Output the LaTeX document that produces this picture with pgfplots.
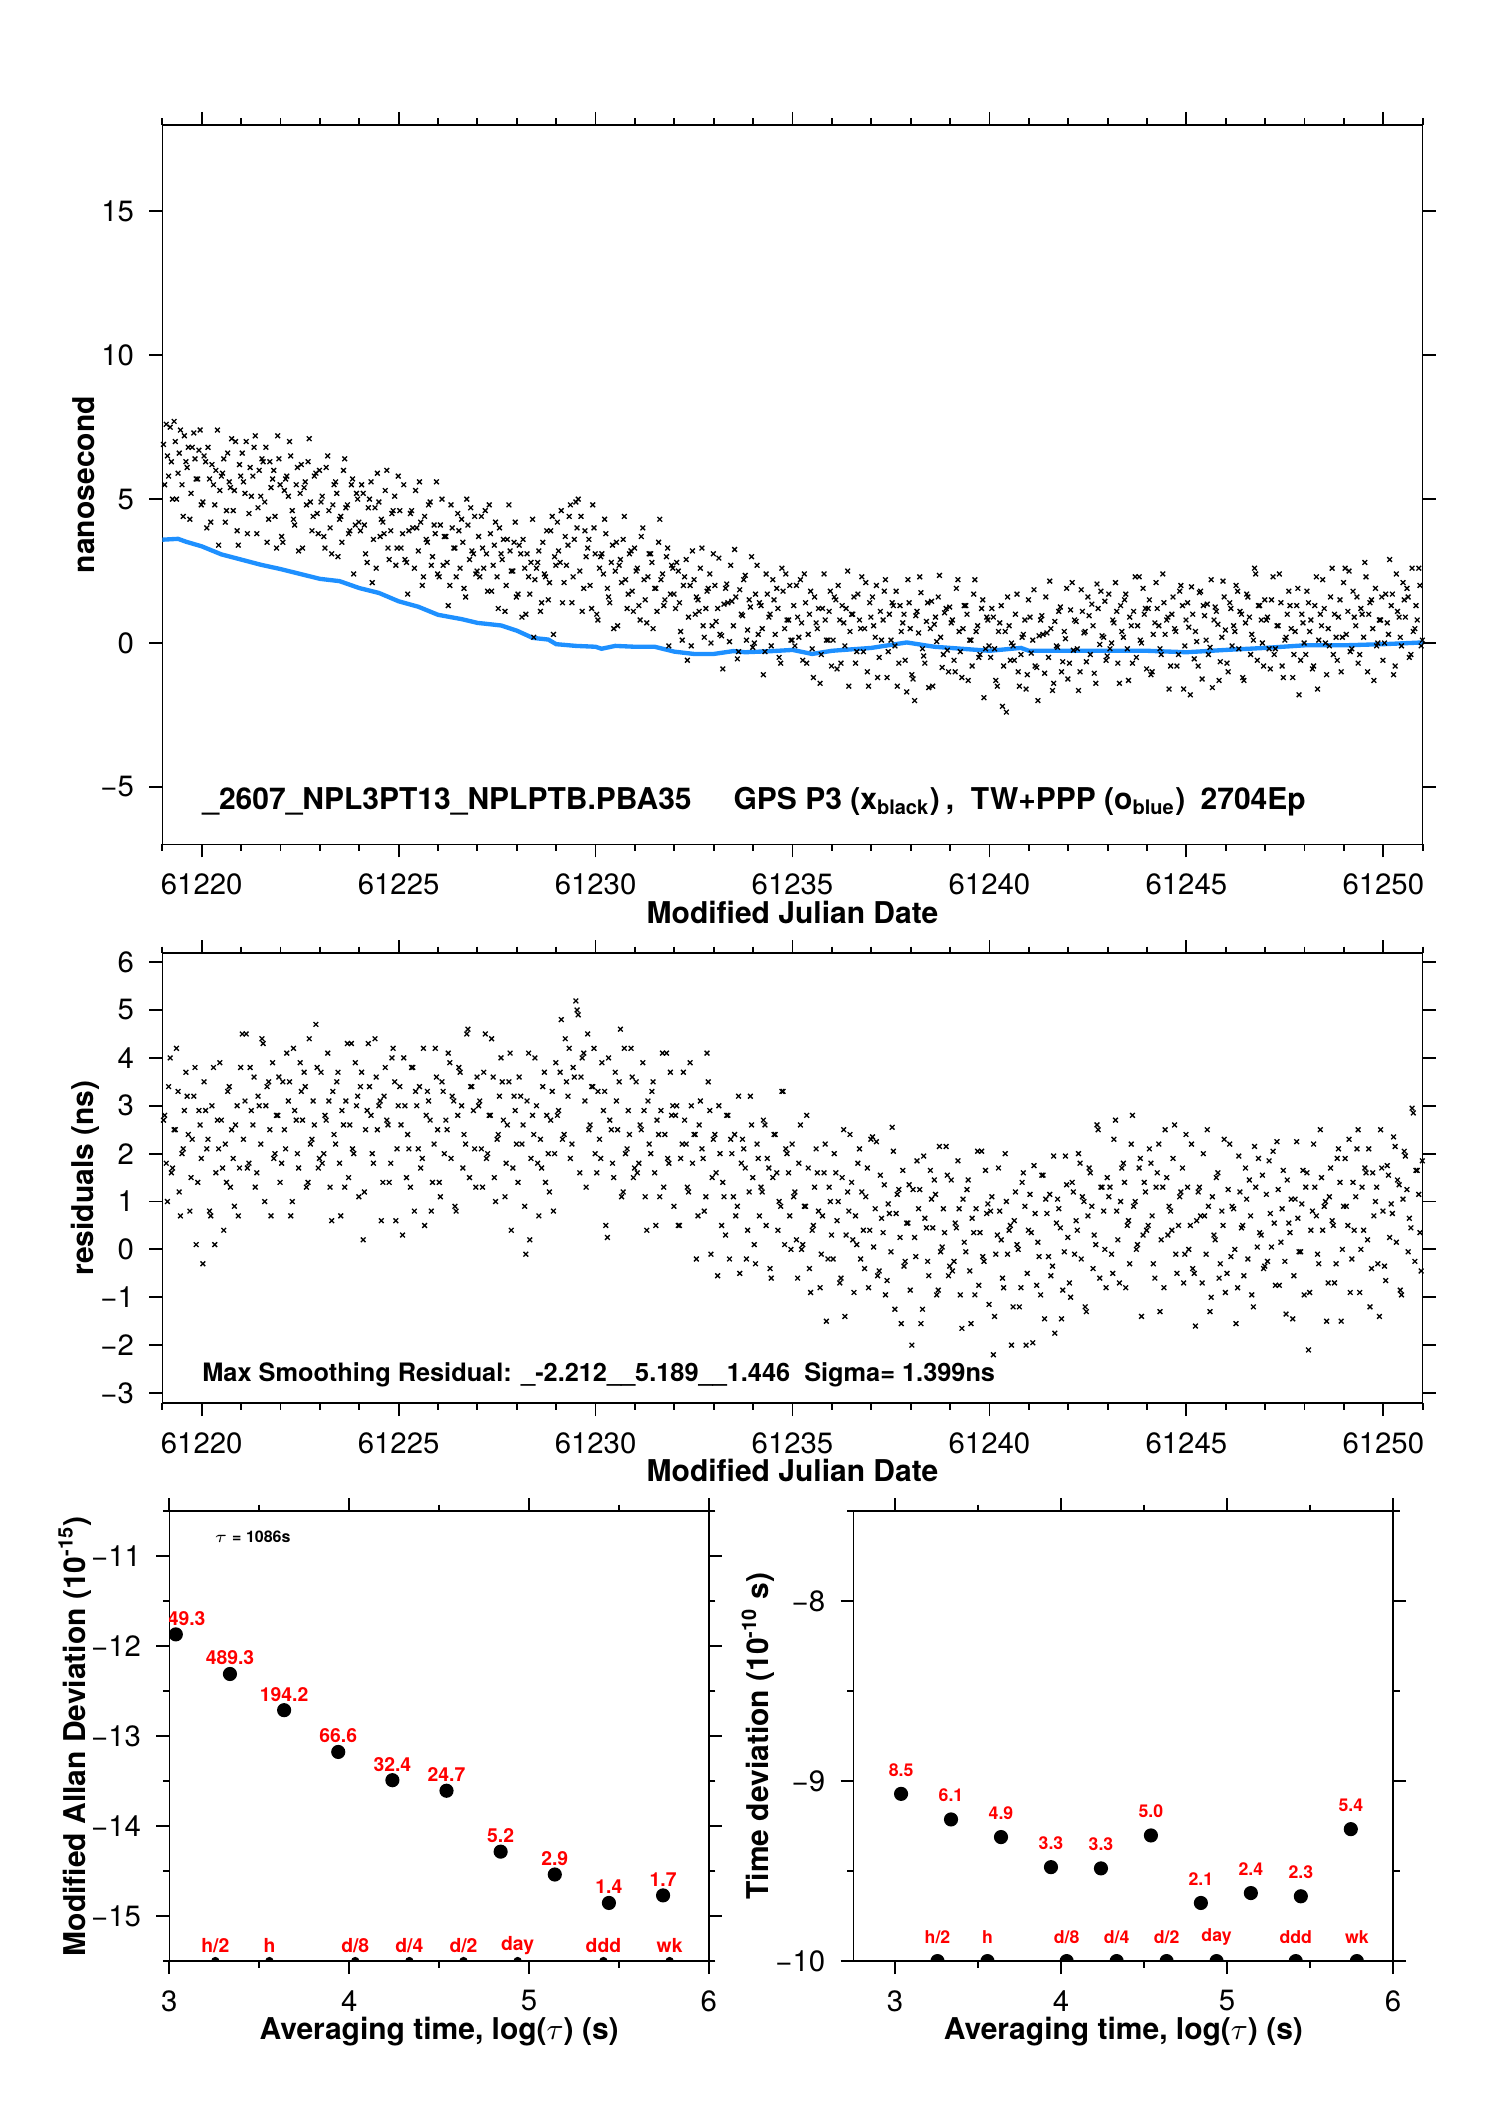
\documentclass[border=0pt]{standalone}
\usepackage{fontspec}
\setmainfont{TeX Gyre Heros}
\usepackage{pgfplots}
\usepackage{pgfplotstable}
\pgfplotsset{compat=1.18}
\definecolor{tblue}{RGB}{30,144,255}
\definecolor{tred}{RGB}{255,0,0}

% x = MJD, g = GPS P3 (top panel), r = smoothing residual (middle panel)
\pgfplotstableread{
x g r
61219.03 6.9 2.7
61219.10 7.6 1.8
61219.16 5.8 3.4
61219.23 6.3 1.6
61219.30 7.7 2.5
61219.36 5.0 4.2
61219.43 6.6 1.2
61219.50 5.5 2.0
61219.56 7.2 2.9
61219.63 6.1 3.2
61219.70 4.3 0.8
61219.76 6.8 2.3
61219.83 6.4 3.8
61219.90 5.7 1.4
61219.96 7.4 2.6
61220.03 4.9 -0.3
61220.10 6.3 2.9
61220.16 6.8 2.3
61220.23 4.2 0.7
61220.30 5.5 3.8
61220.36 6.0 1.6
61220.43 3.4 2.1
61220.50 5.8 2.7
61220.56 6.4 0.4
61220.63 4.6 1.4
61220.70 5.6 3.4
61220.76 7.1 2.5
61220.83 5.3 0.9
61220.90 3.9 3.0
61220.96 6.2 1.7
61221.03 6.6 4.5
61221.10 5.2 3.1
61221.16 3.8 1.7
61221.23 6.1 3.8
61221.30 5.8 2.6
61221.36 7.2 1.3
61221.43 4.7 3.2
61221.50 5.1 2.2
61221.56 6.3 4.3
61221.63 6.8 3.0
61221.70 4.3 3.5
61221.76 5.4 0.7
61221.83 6.0 1.9
61221.90 3.3 2.8
61221.96 6.4 3.6
61222.03 3.7 1.8
61222.10 5.3 2.5
61222.16 5.8 4.1
61222.23 7.0 3.5
61222.30 4.6 1.0
61222.36 4.1 2.9
61222.43 6.1 2.0
61222.50 5.2 3.9
61222.56 3.3 2.7
61222.63 5.6 3.4
61222.70 6.3 1.4
61222.76 4.9 2.2
61222.83 4.4 3.1
61222.90 5.9 4.7
61222.96 3.8 1.7
61223.03 4.9 3.7
61223.10 3.7 2.0
61223.16 6.1 2.7
61223.23 4.6 3.1
61223.30 3.1 0.6
61223.36 5.5 2.4
61223.43 5.2 3.5
61223.50 4.3 1.8
61223.56 3.5 2.9
61223.63 6.4 1.3
61223.70 4.8 4.3
61223.76 3.9 2.6
61223.83 5.7 2.1
61223.90 4.1 3.9
61223.96 5.0 3.2
61224.03 3.9 3.4
61224.10 5.2 0.2
61224.16 3.1 2.5
61224.23 4.7 4.3
61224.30 5.6 2.8
61224.36 3.6 1.8
61224.43 2.6 3.6
61224.50 4.9 3.0
61224.56 4.3 0.6
61224.63 3.8 3.2
61224.70 6.0 2.7
61224.76 2.9 1.4
61224.83 4.5 4.0
61224.90 5.1 3.5
61224.96 3.3 2.1
61225.03 4.6 3.4
61225.10 3.8 0.3
61225.16 2.9 3.0
61225.23 1.7 2.4
61225.30 4.5 1.3
61225.36 4.0 3.8
61225.43 5.3 3.3
61225.50 3.2 2.1
61225.56 4.2 1.7
61225.63 2.3 4.2
61225.70 3.6 2.8
61225.76 4.8 3.1
61225.83 2.7 0.8
61225.90 4.1 2.2
61225.96 5.6 3.6
61226.03 2.3 1.4
61226.10 5.0 3.5
61226.16 3.7 2.0
61226.23 2.8 2.5
61226.30 2.0 3.9
61226.36 4.0 3.2
61226.43 3.3 0.9
61226.50 4.5 2.8
61226.56 2.6 3.7
61226.63 3.5 1.7
61226.70 1.6 2.2
61226.76 4.1 4.6
61226.83 4.7 3.4
61226.90 3.1 2.9
61226.96 2.4 1.3
61227.03 3.7 3.0
61227.10 4.4 2.1
61227.16 2.6 3.7
61227.23 3.1 1.9
61227.30 4.8 2.8
61227.36 1.8 4.4
61227.43 3.4 1.5
61227.50 2.3 2.3
61227.56 4.0 3.2
61227.63 2.9 3.5
61227.70 1.1 1.1
61227.76 3.6 2.6
61227.83 3.2 4.1
61227.90 2.5 1.7
61227.96 4.2 2.9
61228.03 1.7 1.4
61228.10 3.1 3.2
61228.16 3.6 2.6
61228.23 1.0 -0.1
61228.30 2.3 4.1
61228.36 2.8 1.9
61228.43 0.2 2.4
61228.50 2.6 3.0
61228.56 3.2 0.7
61228.63 1.4 1.7
61228.70 2.4 3.7
61228.76 3.9 2.8
61228.83 2.1 1.2
61228.90 4.4 3.3
61228.96 3.0 2.0
61229.03 4.2 2.8
61229.10 2.8 3.7
61229.16 1.4 2.3
61229.23 3.7 4.4
61229.30 3.4 3.2
61229.36 4.8 1.9
61229.43 2.3 3.8
61229.50 4.9 5.19
61229.56 5.0 4.9
61229.63 4.4 3.6
61229.70 1.9 4.1
61229.76 3.0 1.3
61229.83 3.6 2.5
61229.90 1.2 3.4
61229.96 4.0 4.2
61230.03 1.0 1.6
61230.10 2.6 2.3
61230.16 3.1 3.9
61230.23 4.3 3.3
61230.30 1.9 0.25
61230.36 1.4 2.7
61230.43 3.4 1.8
61230.50 2.5 3.7
61230.56 0.6 2.5
61230.63 2.9 4.6
61230.70 3.6 1.2
61230.76 2.2 2.0
61230.83 1.7 2.9
61230.90 3.2 4.2
61230.96 1.1 1.5
61231.03 2.5 3.5
61231.10 1.3 1.8
61231.16 3.7 2.5
61231.23 2.2 2.9
61231.30 0.7 0.4
61231.36 3.1 2.2
61231.43 2.8 3.3
61231.50 1.9 1.6
61231.56 1.1 2.7
61231.63 4.3 1.1
61231.70 2.4 4.1
61231.76 1.5 2.4
61231.83 3.3 1.9
61231.90 1.7 3.7
61231.96 2.6 3.0
61232.03 1.2 2.8
61232.10 2.5 0.5
61232.16 0.4 1.9
61232.23 2.0 3.7
61232.30 2.9 2.2
61232.36 0.9 1.2
61232.43 -0.1 3.0
61232.50 2.2 2.4
61232.56 1.6 -0.2
61232.63 1.1 2.6
61232.70 3.3 2.1
61232.76 0.2 0.8
61232.83 1.8 4.1
61232.90 2.4 2.9
61232.96 0.6 1.5
61233.03 2.0 2.4
61233.10 1.2 -0.55
61233.16 0.3 2.0
61233.23 -0.9 1.4
61233.30 1.9 0.3
61233.36 1.4 2.8
61233.43 2.7 2.3
61233.50 0.6 1.1
61233.56 1.6 0.7
61233.63 -0.3 3.2
61233.70 1.0 1.8
61233.76 2.2 2.1
61233.83 0.1 -0.2
61233.90 1.5 1.2
61233.96 3.0 2.6
61234.03 0.0 0.1
61234.10 2.7 2.2
61234.16 1.4 0.7
61234.23 0.5 1.2
61234.30 -0.3 2.6
61234.36 1.7 1.9
61234.43 1.0 -0.4
61234.50 2.2 1.5
61234.56 0.3 2.4
61234.63 1.2 0.4
61234.70 -0.7 0.9
61234.76 1.8 3.3
61234.83 2.4 2.1
61234.90 0.8 1.6
61234.96 0.1 0.0
61235.03 1.3 1.1
61235.10 2.0 0.2
61235.16 0.2 1.8
61235.23 0.7 0.0
61235.30 2.4 0.9
61235.36 -0.7 2.8
61235.43 1.0 -0.4
61235.50 -0.2 0.4
61235.56 1.6 1.3
61235.63 0.5 1.6
61235.70 -1.4 -0.8
61235.76 1.2 0.7
61235.83 0.8 2.2
61235.90 0.1 -0.2
61235.96 1.8 1.0
61236.03 0.1 -0.2
61236.10 1.5 1.6
61236.16 2.0 1.0
61236.23 -0.7 -0.6
61236.30 0.7 2.5
61236.36 1.2 0.3
61236.43 -1.5 0.8
61236.50 1.0 1.4
61236.56 1.6 -0.9
61236.63 -0.3 0.1
61236.70 0.8 2.1
61236.76 2.3 1.2
61236.83 0.5 -0.4
61236.90 -1.0 1.7
61236.96 1.4 0.4
61237.03 1.6 2.35
61237.10 0.2 0.85
61237.16 -1.2 -0.55
61237.23 1.1 1.55
61237.30 0.8 0.35
61237.36 2.2 -0.95
61237.43 -0.3 0.95
61237.50 0.1 -0.05
61237.56 1.3 2.05
61237.63 1.8 0.75
61237.70 -0.7 1.25
61237.76 0.4 -1.55
61237.83 1.0 -0.35
61237.90 -1.7 0.55
61237.96 1.4 1.35
61238.03 -1.1 -2.0
61238.10 -2.0 0.25
61238.16 1.1 1.85
61238.23 2.3 1.25
61238.30 -0.2 -1.25
61238.36 -0.7 0.65
61238.43 1.4 -0.25
61238.50 0.5 1.65
61238.56 -1.5 0.45
61238.63 0.9 1.15
61238.70 1.6 -0.85
61238.76 0.2 -0.05
61238.83 -0.4 0.85
61238.90 1.2 2.15
61238.96 -1.0 -0.55
61239.03 0.7 1.45
61239.10 -0.6 -0.25
61239.16 1.9 0.45
61239.23 0.4 0.85
61239.30 -1.2 -1.65
61239.36 1.3 0.15
61239.43 1.0 1.25
61239.50 0.1 -0.45
61239.56 -0.8 0.65
61239.63 2.2 -0.95
61239.70 0.6 2.05
61239.76 -0.4 0.35
61239.83 1.5 -0.15
61239.90 -0.2 1.65
61239.96 0.8 0.95
61240.03 -0.5 0.8
61240.10 0.9 -2.2
61240.16 -1.3 -0.1
61240.23 0.4 1.7
61240.30 1.3 0.2
61240.36 -0.8 -0.8
61240.43 -2.4 1.0
61240.50 0.6 0.4
61240.56 0.0 -2.0
61240.63 -0.6 0.6
61240.70 1.7 0.1
61240.76 -1.5 -1.2
61240.83 0.2 1.4
61240.90 0.8 0.9
61240.96 -1.1 -0.5
61241.03 0.9 1.15
61241.10 0.1 -1.95
61241.16 -0.8 0.75
61241.23 -2.0 0.15
61241.30 0.8 -0.95
61241.36 0.3 1.55
61241.43 1.6 1.05
61241.50 -0.5 -0.15
61241.56 0.5 -0.55
61241.63 -1.4 1.95
61241.70 -0.1 0.55
61241.76 1.1 0.85
61241.83 -1.0 -1.45
61241.90 0.4 -0.05
61241.96 1.9 1.35
61242.03 -0.7 -0.7
61242.10 2.1 1.4
61242.16 0.8 -0.1
61242.23 -0.2 0.4
61242.30 -1.0 1.8
61242.36 1.1 1.1
61242.43 0.4 -1.2
61242.50 1.6 0.7
61242.56 -0.4 1.6
61242.63 0.6 -0.4
61242.70 -1.4 0.1
61242.76 1.2 2.5
61242.83 1.8 1.3
61242.90 0.2 0.8
61242.96 -0.6 -0.8
61243.03 1.7 1.1
61243.10 0.0 -0.1
61243.16 0.7 2.3
61243.23 1.1 0.8
61243.30 -1.4 -0.7
61243.36 0.4 1.7
61243.43 1.5 1.4
61243.50 -0.2 0.5
61243.56 0.9 -0.3
61243.63 -0.7 2.8
61243.70 2.3 1.0
61243.76 0.6 0.1
61243.83 0.1 1.9
61243.90 1.9 0.3
61243.96 1.2 1.2
61244.03 1.2 0.5
61244.10 -1.1 1.8
61244.16 0.3 -0.3
61244.23 2.1 1.3
61244.30 0.6 2.2
61244.36 -0.4 0.2
61244.43 1.4 -0.8
61244.50 0.8 1.5
61244.56 -1.6 0.9
61244.63 1.0 0.4
61244.70 0.5 2.6
61244.76 -0.8 -0.5
61244.83 1.8 1.1
61244.90 1.3 1.7
61244.96 -0.1 -0.1
61245.03 1.4 1.3
61245.10 -1.8 0.5
61245.16 1.0 -0.4
61245.23 0.4 -1.6
61245.30 -0.8 1.2
61245.36 1.8 0.7
61245.43 1.3 2.0
61245.50 0.1 -0.1
61245.56 -0.4 0.9
61245.63 2.2 -1.0
61245.70 0.8 0.3
61245.76 1.1 1.5
61245.83 -1.3 -0.6
61245.90 0.2 0.8
61245.96 1.6 2.3
61246.03 -0.7 -0.5
61246.10 1.4 2.2
61246.16 -0.1 0.9
61246.23 0.4 0.0
61246.30 1.8 -0.8
61246.36 1.1 1.2
61246.43 -1.2 0.5
61246.50 0.7 1.7
61246.56 1.6 -0.2
61246.63 -0.4 0.7
61246.70 0.1 -1.2
61246.76 2.4 1.3
61246.83 1.3 1.9
61246.90 0.8 0.3
61246.96 -0.8 -0.4
61247.03 0.8 1.15
61247.10 -0.2 1.85
61247.16 1.5 0.05
61247.23 -0.4 0.55
61247.30 0.6 2.25
61247.36 2.4 -0.75
61247.43 -0.8 0.85
61247.50 0.1 -0.25
61247.56 1.0 1.45
61247.63 1.3 0.35
61247.70 -1.2 -1.45
61247.76 0.4 1.05
61247.83 1.9 0.65
61247.90 -0.6 -0.05
61247.96 0.7 1.65
61248.03 -0.4 1.3
61248.10 1.4 -2.1
61248.16 0.8 0.4
61248.23 -0.8 2.2
61248.30 2.3 0.7
61248.36 0.1 -0.3
61248.43 0.6 1.5
61248.50 1.2 0.9
61248.56 -1.1 -1.5
61248.63 -0.1 1.1
61248.70 2.6 0.6
61248.76 1.0 -0.7
61248.83 -0.6 1.9
61248.90 1.5 1.4
61248.96 0.2 0.0
61249.03 2.6 1.9
61249.10 1.1 0.5
61249.16 -0.3 -0.9
61249.23 1.8 1.4
61249.30 0.6 1.1
61249.36 -0.7 2.5
61249.43 1.2 0.0
61249.50 0.2 0.4
61249.56 2.3 1.6
61249.63 1.0 2.1
61249.70 1.5 -0.4
61249.76 -1.3 0.7
61249.83 -0.1 1.3
61249.90 0.8 -1.4
61249.96 1.6 1.7
61250.03 0.0 -0.35
61250.10 0.7 1.75
61250.16 2.9 0.25
61250.23 1.7 0.75
61250.30 -0.8 2.15
61250.36 1.1 1.45
61250.43 0.2 -0.85
61250.50 2.1 1.05
61250.56 0.9 1.95
61250.63 1.6 -0.05
61250.70 -0.4 0.45
61250.76 0.4 2.85
61250.83 1.3 1.65
61250.90 2.6 1.15
61250.96 -0.1 -0.45
}\gpsdata

% second half of the epochs
\pgfplotstableread{
x g r
61219.06 5.5 2.8
61219.13 6.5 1.0
61219.20 7.5 4.0
61219.26 5.0 1.7
61219.33 7.0 2.5
61219.40 5.9 3.3
61219.46 7.4 0.7
61219.53 4.4 2.1
61219.60 6.3 3.7
61219.66 6.8 2.4
61219.73 5.2 1.5
61219.80 7.3 3.2
61219.86 5.7 0.1
61219.93 6.7 2.9
61219.99 4.8 1.9
61220.06 6.5 3.5
61220.13 4.0 2.1
61220.20 5.7 0.8
61220.26 6.2 3.0
61220.33 4.8 0.1
61220.40 7.4 2.7
61220.46 5.3 3.9
61220.53 5.9 1.7
61220.60 4.2 2.2
61220.66 6.6 3.3
61220.73 5.4 1.3
61220.80 4.6 1.9
61220.86 7.0 2.6
61220.93 3.4 0.7
61220.99 5.8 3.8
61221.06 5.6 2.3
61221.13 7.0 4.5
61221.20 4.5 1.8
61221.26 5.1 2.9
61221.33 6.8 3.6
61221.40 3.8 1.6
61221.46 6.0 3.0
61221.53 6.4 4.4
61221.60 4.9 1.0
61221.66 3.5 3.4
61221.73 6.3 2.5
61221.80 5.7 3.9
61221.86 4.4 2.0
61221.93 7.2 2.8
61221.99 5.5 1.4
61222.06 3.5 3.5
61222.13 5.7 2.1
61222.20 5.1 3.1
61222.26 6.5 0.7
61222.33 4.3 4.2
61222.40 5.5 2.7
61222.46 3.2 1.7
61222.53 6.2 3.3
61222.60 5.4 3.7
61222.66 4.8 1.3
61222.73 7.1 4.4
61222.80 3.9 2.3
61222.86 5.8 2.6
61222.93 4.5 3.8
61222.99 6.0 1.9
61223.06 5.1 1.8
61223.13 3.3 2.8
61223.20 6.5 4.1
61223.26 4.0 1.3
61223.33 4.8 3.3
61223.40 5.6 2.2
61223.46 3.0 3.7
61223.53 4.4 0.7
61223.60 6.0 2.6
61223.66 4.7 3.1
61223.73 3.8 1.5
61223.80 5.5 4.3
61223.86 2.4 2.0
61223.93 5.2 3.0
61223.99 4.2 1.1
61224.06 5.5 3.7
61224.13 4.1 1.2
61224.20 2.8 2.9
61224.26 5.0 3.4
61224.33 2.1 2.0
61224.40 4.7 4.4
61224.46 5.9 2.5
61224.53 3.7 3.1
61224.60 4.2 1.4
61224.66 5.3 3.8
61224.73 3.3 2.6
61224.80 3.9 1.8
61224.86 4.6 4.2
61224.93 2.7 0.6
61224.99 5.8 3.0
61225.06 3.3 2.6
61225.13 5.5 4.0
61225.20 2.8 1.5
61225.26 3.9 2.1
61225.33 4.6 3.8
61225.40 2.6 0.8
61225.46 4.0 3.0
61225.53 5.6 3.4
61225.60 2.0 1.9
61225.66 4.4 0.5
61225.73 3.5 3.3
61225.80 4.9 2.7
61225.86 3.0 1.4
61225.93 3.8 4.2
61225.99 2.4 2.5
61226.06 4.1 1.1
61226.13 2.7 3.3
61226.20 3.7 2.7
61226.26 1.3 4.1
61226.33 4.8 1.9
61226.40 3.3 3.1
61226.46 2.3 0.8
61226.53 3.9 3.8
61226.60 4.3 3.0
61226.66 1.9 2.4
61226.73 5.0 4.5
61226.80 2.9 1.5
61226.86 3.2 3.4
61226.93 4.4 2.1
61226.99 2.5 3.6
61227.06 2.3 3.1
61227.13 3.3 1.3
61227.20 4.6 4.5
61227.26 1.8 2.0
61227.33 3.8 2.8
61227.40 2.7 3.6
61227.46 4.2 1.0
61227.53 1.2 2.4
61227.60 3.1 4.0
61227.66 3.6 2.7
61227.73 2.0 1.8
61227.80 4.8 3.5
61227.86 2.5 0.4
61227.93 3.5 3.2
61227.99 1.6 2.2
61228.06 3.4 3.6
61228.13 0.9 2.2
61228.20 2.6 0.9
61228.26 3.1 3.1
61228.33 1.7 0.2
61228.40 4.3 2.8
61228.46 2.2 4.0
61228.53 2.8 1.8
61228.60 1.1 2.3
61228.66 3.5 3.4
61228.73 2.3 1.4
61228.80 1.5 2.0
61228.86 3.9 2.7
61228.93 0.3 0.8
61228.99 2.7 3.9
61229.06 3.2 2.9
61229.13 4.6 4.8
61229.20 2.1 2.4
61229.26 2.7 3.5
61229.33 4.4 4.2
61229.40 1.4 2.2
61229.46 3.6 3.6
61229.53 4.0 5.0
61229.60 2.5 1.6
61229.66 1.1 4.0
61229.73 3.9 3.1
61229.80 3.3 4.5
61229.86 2.0 2.6
61229.93 4.8 3.4
61229.99 3.1 2.0
61230.06 0.8 3.3
61230.13 3.0 1.9
61230.20 2.4 2.9
61230.26 3.8 0.5
61230.33 1.6 4.0
61230.40 2.8 2.5
61230.46 0.5 1.5
61230.53 3.5 3.1
61230.60 2.7 3.5
61230.66 2.1 1.1
61230.73 4.4 4.2
61230.80 1.2 2.1
61230.86 3.1 2.4
61230.93 1.8 3.6
61230.99 3.3 1.7
61231.06 2.6 1.6
61231.13 0.8 2.6
61231.20 4.0 3.9
61231.26 1.5 1.1
61231.33 2.3 3.1
61231.40 3.1 2.0
61231.46 0.5 3.5
61231.53 1.9 0.5
61231.60 3.5 2.4
61231.66 2.2 2.9
61231.73 1.3 1.3
61231.80 3.0 4.1
61231.86 -0.1 1.8
61231.93 2.7 2.8
61231.99 1.7 0.9
61232.06 2.8 3.0
61232.13 1.4 0.5
61232.20 0.1 2.2
61232.26 2.3 2.7
61232.33 -0.6 1.3
61232.40 2.0 3.9
61232.46 3.2 1.8
61232.53 1.0 2.4
61232.60 1.5 0.7
61232.66 2.6 3.1
61232.73 0.6 1.9
61232.80 1.2 1.1
61232.86 1.9 3.5
61232.93 0.0 -0.1
61232.99 3.1 2.3
61233.06 0.75 1.6
61233.13 2.95 3.0
61233.20 0.25 0.5
61233.26 1.35 1.1
61233.33 2.05 2.8
61233.40 0.05 -0.2
61233.46 1.45 2.0
61233.53 3.25 2.4
61233.60 -0.55 0.9
61233.66 1.85 -0.5
61233.73 0.95 2.3
61233.80 2.35 1.7
61233.86 0.45 0.4
61233.93 1.25 3.2
61233.99 -0.15 1.5
61234.06 1.7 -0.3
61234.13 0.3 1.9
61234.20 1.3 1.3
61234.26 -1.1 2.7
61234.33 2.4 0.5
61234.40 0.9 1.7
61234.46 -0.1 -0.6
61234.53 1.5 2.4
61234.60 1.9 1.6
61234.66 -0.5 1.0
61234.73 2.6 3.3
61234.80 0.5 0.1
61234.86 0.8 2.0
61234.93 2.0 0.7
61234.99 0.1 2.2
61235.06 -0.1 1.2
61235.13 0.9 -0.6
61235.20 2.2 2.6
61235.26 -0.6 0.1
61235.33 1.4 0.9
61235.40 0.3 1.7
61235.46 1.8 -0.9
61235.53 -1.2 0.5
61235.60 0.7 2.1
61235.66 1.2 0.8
61235.73 -0.4 -0.1
61235.80 2.4 1.6
61235.86 0.1 -1.5
61235.93 1.1 1.3
61235.99 -0.8 0.3
61236.06 1.6 2.0
61236.13 -0.9 0.6
61236.20 0.8 -0.7
61236.26 1.3 1.5
61236.33 -0.1 -1.4
61236.40 2.5 1.2
61236.46 0.4 2.4
61236.53 1.0 0.2
61236.60 -0.7 0.7
61236.66 1.7 1.8
61236.73 0.5 -0.2
61236.80 -0.3 0.4
61236.86 2.1 1.1
61236.93 -1.5 -0.8
61236.99 0.9 2.3
61237.06 0.6 0.05
61237.13 2.0 2.25
61237.20 -0.5 -0.45
61237.26 0.1 0.65
61237.33 1.8 1.35
61237.40 -1.2 -0.65
61237.46 1.0 0.75
61237.53 1.4 2.55
61237.60 -0.1 -1.25
61237.66 -1.5 1.15
61237.73 1.3 0.25
61237.80 0.7 1.65
61237.86 -0.6 -0.25
61237.93 2.2 0.55
61237.99 0.5 -0.85
61238.06 -1.25 1.25
61238.13 0.95 -0.15
61238.20 0.35 0.85
61238.26 1.75 -1.55
61238.33 -0.45 1.95
61238.40 0.75 0.45
61238.46 -1.55 -0.55
61238.53 1.45 1.05
61238.60 0.65 1.45
61238.66 0.05 -0.95
61238.73 2.35 2.15
61238.80 -0.85 0.05
61238.86 1.05 0.35
61238.93 -0.25 1.55
61238.99 1.25 -0.35
61239.06 0.8 -0.45
61239.13 -1.0 0.55
61239.20 2.2 1.85
61239.26 -0.3 -0.95
61239.33 0.5 1.05
61239.40 1.3 -0.05
61239.46 -1.3 1.45
61239.53 0.1 -1.55
61239.60 1.7 0.35
61239.66 0.4 0.85
61239.73 -0.5 -0.75
61239.80 1.2 2.05
61239.86 -1.9 -0.25
61239.93 0.9 0.75
61239.99 -0.1 -1.15
61240.06 1.2 1.1
61240.13 -0.2 -1.4
61240.20 -1.5 0.3
61240.26 0.7 0.8
61240.33 -2.2 -0.6
61240.40 0.4 2.0
61240.46 1.6 -0.1
61240.53 -0.6 0.5
61240.60 -0.1 -1.2
61240.66 1.0 1.2
61240.73 -1.0 0.0
61240.80 -0.4 -0.8
61240.86 0.3 1.6
61240.93 -1.6 -2.0
61240.99 1.5 0.4
61241.06 -0.35 0.35
61241.13 1.85 1.75
61241.20 -0.85 -0.75
61241.26 0.25 -0.15
61241.33 0.95 1.55
61241.40 -1.05 -1.45
61241.46 0.35 0.75
61241.53 2.15 1.15
61241.60 -1.65 -0.35
61241.66 0.75 -1.75
61241.73 -0.15 1.05
61241.80 1.25 0.45
61241.86 -0.65 -0.85
61241.93 0.15 1.95
61241.99 -1.25 0.25
61242.06 1.15 -1.0
61242.13 -0.25 1.2
61242.20 0.75 0.6
61242.26 -1.65 2.0
61242.33 1.85 -0.2
61242.40 0.35 1.0
61242.46 -0.65 -1.3
61242.53 0.95 1.7
61242.60 1.35 0.9
61242.66 -1.05 0.3
61242.73 2.05 2.6
61242.80 -0.05 -0.6
61242.86 0.25 1.3
61242.93 1.45 0.0
61242.99 -0.45 1.5
61243.06 -0.2 1.3
61243.13 0.8 -0.5
61243.20 2.1 2.7
61243.26 -0.7 0.2
61243.33 1.3 1.0
61243.40 0.2 1.8
61243.46 1.7 -0.8
61243.53 -1.3 0.6
61243.60 0.6 2.2
61243.66 1.1 0.9
61243.73 -0.5 0.0
61243.80 2.3 1.7
61243.86 0.0 -1.4
61243.93 1.0 1.4
61243.99 -0.9 0.4
61244.06 1.5 2.1
61244.13 -1.0 0.7
61244.20 0.7 -0.6
61244.26 1.2 1.6
61244.33 -0.2 -1.3
61244.40 2.4 1.3
61244.46 0.3 2.5
61244.53 0.9 0.3
61244.60 -0.8 0.8
61244.66 1.6 1.9
61244.73 0.4 -0.1
61244.80 -0.4 0.5
61244.86 2.0 1.2
61244.93 -1.6 -0.7
61244.99 0.8 2.4
61245.06 0.55 0.0
61245.13 1.95 2.2
61245.20 -0.55 -0.5
61245.26 0.05 0.6
61245.33 1.75 1.3
61245.40 -1.25 -0.7
61245.46 0.95 0.7
61245.53 1.35 2.5
61245.60 -0.15 -1.3
61245.66 -1.55 1.1
61245.73 1.25 0.2
61245.80 0.65 1.6
61245.86 -0.65 -0.3
61245.93 2.15 0.5
61245.99 0.45 -0.9
61246.06 -1.0 1.25
61246.13 1.2 -0.15
61246.20 0.6 0.85
61246.26 2.0 -1.55
61246.33 -0.2 1.95
61246.40 1.0 0.45
61246.46 -1.3 -0.55
61246.53 1.7 1.05
61246.60 0.9 1.45
61246.66 0.3 -0.95
61246.73 2.6 2.15
61246.80 -0.6 0.05
61246.86 1.3 0.35
61246.93 0.0 1.55
61246.99 1.5 -0.35
61247.06 0.9 -0.25
61247.13 -0.9 0.75
61247.20 2.3 2.05
61247.26 -0.2 -0.75
61247.33 0.6 1.25
61247.40 1.4 0.15
61247.46 -1.2 1.65
61247.53 0.2 -1.35
61247.60 1.8 0.55
61247.66 0.5 1.05
61247.73 -0.4 -0.55
61247.80 1.3 2.25
61247.86 -1.8 -0.05
61247.93 1.0 0.95
61247.99 0.0 -0.95
61248.06 1.8 1.6
61248.13 0.4 -0.9
61248.20 -0.9 0.8
61248.26 1.3 1.3
61248.33 -1.6 -0.1
61248.40 1.0 2.5
61248.46 2.2 0.4
61248.53 0.0 1.0
61248.60 0.5 -0.7
61248.66 1.6 1.7
61248.73 -0.4 0.5
61248.80 0.2 -0.3
61248.86 0.9 2.1
61248.93 -1.0 -1.5
61248.99 2.1 0.9
61249.06 0.3 0.9
61249.13 2.5 2.3
61249.20 -0.2 -0.2
61249.26 0.9 0.4
61249.33 1.6 2.1
61249.40 -0.4 -0.9
61249.46 1.0 1.3
61249.53 2.8 1.7
61249.60 -1.0 0.2
61249.66 1.4 -1.2
61249.73 0.5 1.6
61249.80 1.9 1.0
61249.86 0.0 -0.3
61249.93 0.8 2.5
61249.99 -0.6 0.8
61250.06 1.7 -0.65
61250.13 0.3 1.55
61250.20 1.3 0.95
61250.26 -1.1 2.35
61250.33 2.4 0.15
61250.40 0.9 1.35
61250.46 -0.1 -0.95
61250.53 1.5 2.05
61250.60 1.9 1.25
61250.66 -0.5 0.65
61250.73 2.6 2.95
61250.80 0.5 -0.25
61250.86 0.8 1.65
61250.93 2.0 0.35
61250.99 0.1 1.85
}\gpsdatab

\pgfplotsset{
  panel/.style={
    scale only axis, anchor=south west,
    axis line style={line width=0.45pt},
    tick align=outside,
    major tick length=3.9pt, minor tick length=1.95pt,
    every tick/.style={black, line width=0.55pt},
    tick label style={font=\fontsize{8.8}{10}\selectfont},
    xticklabel style={yshift=-1.3pt},
    yticklabel style={xshift=-1.1pt},
    scaled x ticks=false, scaled y ticks=false,
    /pgf/number format/assume math mode=true,
  },
  gx/.style={only marks, mark=x, mark size=1pt, mark options={line width=0.4pt, black}},
}

\begin{document}
\begin{tikzpicture}
\path[use as bounding box] (0,0) rectangle (446.4pt,631.5pt);

% ---------------- top panel ----------------
\begin{axis}[panel, at={(48.69pt,378.15pt)}, width=378.12pt, height=215.85pt,
  xmin=61219, xmax=61251, ymin=-7, ymax=18,
  xtick={61220,61225,61230,61235,61240,61245,61250},
  xticklabels={61220,61225,61230,61235,61240,61245,61250},
  minor xtick={61219,61220,...,61251},
  ytick={-5,0,5,10,15}, yticklabels={−5,0,5,10,15}]
\addplot[gx] table[x=x, y=g] {\gpsdata};
\addplot[gx] table[x=x, y=g] {\gpsdatab};
\addplot[tblue, line width=1.3pt] coordinates {
(61219.0,3.59) (61219.4,3.62) (61219.6,3.52) (61220.0,3.36) (61220.5,3.08)
(61221.0,2.90) (61221.5,2.72) (61222.0,2.57) (61222.5,2.40) (61223.0,2.23)
(61223.5,2.15) (61224.0,1.91) (61224.5,1.74) (61225.0,1.45) (61225.5,1.26)
(61226.0,0.98) (61226.6,0.83) (61227.0,0.70) (61227.6,0.61) (61228.0,0.43)
(61228.4,0.18) (61228.8,0.12) (61229.0,-0.04) (61229.5,-0.10) (61230.0,-0.13)
(61230.15,-0.20) (61230.5,-0.10) (61231.0,-0.13) (61231.5,-0.13) (61232.0,-0.30)
(61232.5,-0.38) (61233.0,-0.38) (61233.5,-0.28) (61233.8,-0.32) (61234.5,-0.28)
(61235.0,-0.24) (61235.5,-0.38) (61236.0,-0.27) (61237.0,-0.17) (61237.9,0.02)
(61238.6,-0.13) (61239.0,-0.17) (61240.0,-0.27) (61240.8,-0.17) (61241.0,-0.27)
(61242.0,-0.27) (61243.0,-0.27) (61244.0,-0.27) (61245.0,-0.32) (61246.0,-0.24)
(61247.0,-0.17) (61248.0,-0.08) (61249.0,-0.08) (61250.0,-0.04) (61251.0,0.02)};
\end{axis}

% ---------------- middle panel ----------------
\begin{axis}[panel, at={(48.69pt,210.54pt)}, width=378.12pt, height=135.03pt,
  xmin=61219, xmax=61251, ymin=-3.212, ymax=6.189,
  xtick={61220,61225,61230,61235,61240,61245,61250},
  xticklabels={61220,61225,61230,61235,61240,61245,61250},
  minor xtick={61219,61220,...,61251},
  ytick={-3,-2,-1,0,1,2,3,4,5,6}, yticklabels={−3,−2,−1,0,1,2,3,4,5,6}]
\addplot[gx] table[x=x, y=r] {\gpsdata};
\addplot[gx] table[x=x, y=r] {\gpsdatab};
\end{axis}

% ---------------- bottom left: MDEV ----------------
\begin{axis}[panel, at={(50.82pt,43.17pt)}, width=161.85pt, height=135pt,
  xmin=3, xmax=6, ymin=-15.5, ymax=-10.5,
  xtick={3,4,5,6}, minor xtick={3.5,4.5,5.5},
  ytick={-15,-14,-13,-12,-11}, yticklabels={−15,−14,−13,−12,−11},
  minor ytick={-15.5,-14.5,-13.5,-12.5,-11.5,-10.5},
  clip marker paths=true]
\addplot[only marks, mark=*, mark size=1.92pt, black] coordinates {
(3.0358,-11.870) (3.3368,-12.310) (3.6379,-12.712) (3.9389,-13.176) (4.2400,-13.490)
(4.5410,-13.607) (4.8420,-14.284) (5.1431,-14.538) (5.4441,-14.854) (5.7452,-14.770)};
\addplot[only marks, mark=*, mark size=1.05pt, black] coordinates {
(3.2553,-15.5) (3.5563,-15.5) (4.0334,-15.5) (4.3345,-15.5) (4.6355,-15.5)
(4.9365,-15.5) (5.4136,-15.5) (5.7816,-15.5)};
\begin{scope}[every node/.style={text=tred, font=\fontsize{5.8}{6}\selectfont\bfseries, yshift=4.8pt}]
\node at (axis cs:3.0358,-11.870) {1349.3};
\node at (axis cs:3.3368,-12.310) {489.3};
\node at (axis cs:3.6379,-12.712) {194.2};
\node at (axis cs:3.9389,-13.176) {66.6};
\node at (axis cs:4.2400,-13.490) {32.4};
\node at (axis cs:4.5410,-13.607) {24.7};
\node at (axis cs:4.8420,-14.284) {5.2};
\node at (axis cs:5.1431,-14.538) {2.9};
\node at (axis cs:5.4441,-14.854) {1.4};
\node at (axis cs:5.7452,-14.770) {1.7};
\node at (axis cs:3.2553,-15.5) {h/2};
\node at (axis cs:3.5563,-15.5) {h};
\node at (axis cs:4.0334,-15.5) {d/8};
\node at (axis cs:4.3345,-15.5) {d/4};
\node at (axis cs:4.6355,-15.5) {d/2};
\node at (axis cs:4.9365,-15.5) {day};
\node at (axis cs:5.4136,-15.5) {ddd};
\node at (axis cs:5.7816,-15.5) {wk};
\end{scope}
\end{axis}

% ---------------- bottom right: TDEV ----------------
\begin{axis}[panel, at={(256.08pt,43.17pt)}, width=161.85pt, height=135pt,
  xmin=2.75, xmax=6, ymin=-10, ymax=-7.5,
  xtick={3,4,5,6}, minor xtick={3.5,4.5,5.5},
  ytick={-10,-9,-8}, yticklabels={−10,−9,−8},
  minor ytick={-9.5,-8.5,-7.5},
  clip marker paths=true]
\addplot[only marks, mark=*, mark size=1.92pt, black] coordinates {
(3.0358,-9.071) (3.3368,-9.213) (3.6379,-9.311) (3.9389,-9.478) (4.2400,-9.485)
(4.5410,-9.302) (4.8420,-9.677) (5.1431,-9.622) (5.4441,-9.640) (5.7452,-9.267)};
\addplot[only marks, mark=*, mark size=1.92pt, black] coordinates {
(3.2553,-10) (3.5563,-10) (4.0334,-10) (4.3345,-10) (4.6355,-10)
(4.9365,-10) (5.4136,-10) (5.7816,-10)};
\begin{scope}[every node/.style={text=tred, font=\fontsize{5.3}{6}\selectfont\bfseries, yshift=7.2pt}]
\node at (axis cs:3.0358,-9.071) {8.5};
\node at (axis cs:3.3368,-9.213) {6.1};
\node at (axis cs:3.6379,-9.311) {4.9};
\node at (axis cs:3.9389,-9.478) {3.3};
\node at (axis cs:4.2400,-9.485) {3.3};
\node at (axis cs:4.5410,-9.302) {5.0};
\node at (axis cs:4.8420,-9.677) {2.1};
\node at (axis cs:5.1431,-9.622) {2.4};
\node at (axis cs:5.4441,-9.640) {2.3};
\node at (axis cs:5.7452,-9.267) {5.4};
\node at (axis cs:3.2553,-10) {h/2};
\node at (axis cs:3.5563,-10) {h};
\node at (axis cs:4.0334,-10) {d/8};
\node at (axis cs:4.3345,-10) {d/4};
\node at (axis cs:4.6355,-10) {d/2};
\node at (axis cs:4.9365,-10) {day};
\node at (axis cs:5.4136,-10) {ddd};
\node at (axis cs:5.7816,-10) {wk};
\end{scope}
\end{axis}

% ---------------- texts (coordinates in reference pixels) ----------------
\begin{scope}[x=0.3pt, y=0.3pt, every node/.style={font=\fontsize{9}{10}\selectfont\bfseries}]
\node[anchor=base west, inner sep=0pt] at (201.7,1295.2)
  {\_2607\_NPL3PT13\_NPLPTB.PBA35\hspace{12.6pt}GPS P3 (x\textsubscript{black})\hspace{1.8pt},\hspace{5pt}TW+PPP (o\textsubscript{blue})\hspace{4.6pt}2704Ep};
\node at (792.5,1192.4) {Modified Julian Date};
\node[rotate=90] at (84,1620.3) {nanosecond};
\node[font=\fontsize{7.6}{9}\selectfont\bfseries, anchor=base west, inner sep=0pt] at (201.7,723.1)
  {Max Smoothing Residual: \_-2.212\_\_5.189\_\_1.446\ \ Sigma= 1.399ns};
\node at (792.5,634) {Modified Julian Date};
\node[rotate=90] at (85.5,926.8) {residuals (ns)};
\node[rotate=90] at (75,368.9) {Modified Allan Deviation (10\textsuperscript{-15})};
\node[rotate=90] at (758.2,368.9) {Time deviation (10\textsuperscript{-10} s)};
\node at (439.2,73) {Averaging time, log($\tau$) (s)};
\node at (1123.4,73) {Averaging time, log($\tau$) (s)};
\node[font=\fontsize{4.8}{5}\selectfont\bfseries] at (252.5,568.4) {$\tau$ = 1086s};
\end{scope}
\end{tikzpicture}
\end{document}
